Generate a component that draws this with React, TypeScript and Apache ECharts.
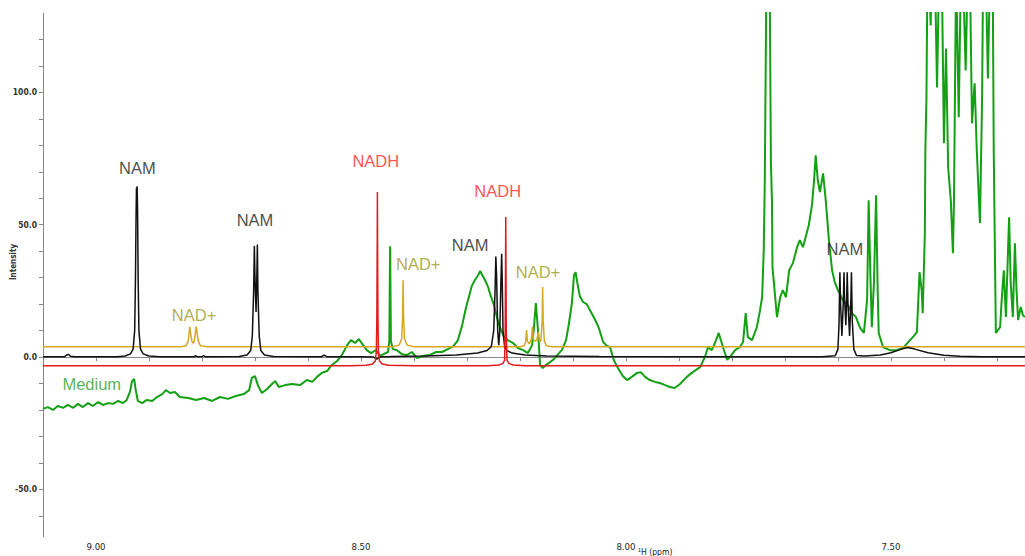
import React, { useEffect, useRef } from "react";
import * as echarts from "echarts";

// Axis ticks / labels (ppm on x, intensity on y)
const xTickValues = [7.3, 7.4, 7.5, 7.6, 7.7, 7.8, 7.9, 8.0, 8.1, 8.2, 8.3, 8.4, 8.5, 8.6, 8.7, 8.8, 8.9, 9.0, 9.1];
const xLabelValues = [7.5, 8.0, 8.5, 9.0];
const yTickValues = [-60, -50, -40, -30, -20, -10, 0, 10, 20, 30, 40, 50, 60, 70, 80, 90, 100, 110, 120];
const yLabelValues = [-50, 0, 50, 100];

// NAM (black)
const namSpectrum: [number, number][] = [
  [9.10, 0.1], [9.06, 0.1], [9.055, 0.8], [9.052, 1.0], [9.048, 0.3], [9.04, 0.1], [8.96, 0.1],
  [8.945, 0.4], [8.935, 1.2], [8.93, 3], [8.927, 10], [8.9255, 30], [8.9243, 55], [8.9236, 64],
  [8.923, 60], [8.9224, 64.5], [8.9215, 55], [8.9205, 30], [8.919, 10], [8.916, 3], [8.911, 1.2],
  [8.90, 0.4], [8.88, 0.1], [8.815, 0.1], [8.812, 0.5], [8.809, 0.1], [8.80, 0.1], [8.797, 0.6],
  [8.794, 0.1], [8.73, 0.2], [8.715, 0.8], [8.708, 2.5], [8.705, 8], [8.7025, 25], [8.7012, 42],
  [8.700, 30], [8.698, 17], [8.6965, 30], [8.6955, 42.5], [8.6945, 25], [8.692, 8], [8.689, 2.5],
  [8.682, 0.8], [8.665, 0.2], [8.575, 0.1], [8.569, 0.7], [8.564, 0.1], [8.50, 0.1], [8.476, 0.0],
  [8.470, -0.8], [8.466, 0], [8.44, 0.2], [8.38, 0.4], [8.32, 0.8], [8.28, 1.5], [8.262, 2.5],
  [8.254, 4], [8.2495, 10], [8.247, 25], [8.2455, 38], [8.244, 30], [8.242, 10], [8.240, 4.5],
  [8.238, 10], [8.236, 28], [8.2345, 39], [8.2335, 30], [8.232, 10], [8.229, 4], [8.225, 2.5],
  [8.215, 1.5], [8.19, 0.8], [8.15, 0.4], [8.05, 0.2], [7.80, 0.1], [7.63, 0.1], [7.605, 0.5],
  [7.600, 3], [7.598, 12], [7.5963, 32], [7.595, 20], [7.5925, 8], [7.590, 20], [7.5885, 32],
  [7.5875, 22], [7.585, 12], [7.5835, 22], [7.5825, 32], [7.581, 20], [7.578, 8], [7.5755, 22],
  [7.5745, 32], [7.573, 14], [7.570, 3], [7.565, 0.6], [7.55, 0.4], [7.52, 0.8], [7.50, 1.6],
  [7.48, 3], [7.468, 3.6], [7.455, 3], [7.43, 1.6], [7.40, 0.7], [7.37, 0.3], [7.33, 0.1], [7.24, 0.1],
];

// NADH (red)
const nadhSpectrum: [number, number][] = [
  [9.10, -3.3], [8.52, -3.3], [8.49, -3.1], [8.478, -2.6], [8.473, -1.5], [8.471, 2], [8.470, 15],
  [8.4693, 45], [8.469, 62.4], [8.4687, 45], [8.468, 15], [8.467, 2], [8.465, -1.5], [8.460, -2.6],
  [8.448, -3.1], [8.40, -3.3], [8.26, -3.3], [8.24, -3.0], [8.232, -2.4], [8.229, -1.2],
  [8.2278, 10], [8.2272, 35], [8.2268, 52.9], [8.2264, 35], [8.2258, 10], [8.2245, -1.2],
  [8.221, -2.4], [8.213, -3.0], [8.19, -3.3], [7.24, -3.3],
];

// NAD+ (gold)
const nadPlusSpectrum: [number, number][] = [
  [9.10, 3.9], [8.84, 3.9], [8.830, 4.3], [8.826, 6], [8.824, 9.5], [8.823, 11.4], [8.8215, 9],
  [8.819, 6], [8.817, 5.2], [8.8145, 6], [8.8125, 9], [8.811, 11.5], [8.8095, 9.5], [8.807, 6],
  [8.803, 4.3], [8.79, 3.9], [8.44, 3.9], [8.428, 4.5], [8.423, 7], [8.4215, 15], [8.4205, 29],
  [8.4195, 15], [8.418, 7], [8.413, 4.5], [8.40, 3.9], [8.20, 3.9], [8.192, 4.3], [8.189, 6],
  [8.1875, 10.2], [8.186, 6], [8.1825, 5], [8.1785, 6.5], [8.1765, 11.4], [8.1745, 6.5],
  [8.1705, 6], [8.168, 6.5], [8.1655, 9.5], [8.163, 6], [8.1605, 6], [8.158, 14], [8.1572, 26.5],
  [8.1562, 14], [8.154, 6], [8.150, 4.3], [8.14, 3.9], [7.24, 3.9],
];

// Medium (green)
const mediumSpectrum: [number, number][] = [
  [9.100, -19.6], [9.091, -18.9], [9.081, -20.0], [9.072, -18.5], [9.062, -19.2], [9.053, -18.1],
  [9.043, -19.2], [9.034, -17.7], [9.025, -18.9], [9.015, -17.4], [9.006, -18.5], [8.996, -17.0],
  [8.987, -18.1], [8.977, -17.4], [8.968, -17.7], [8.958, -16.6], [8.949, -17.4], [8.942, -16.2],
  [8.936, -13.2], [8.932, -9.1], [8.928, -8.3], [8.925, -12.5], [8.921, -16.6], [8.913, -17.4],
  [8.904, -16.2], [8.894, -16.6], [8.885, -15.1], [8.875, -14.0], [8.868, -12.5], [8.860, -13.6],
  [8.851, -13.2], [8.842, -15.1], [8.826, -15.5], [8.811, -16.2], [8.796, -15.5], [8.781, -16.6],
  [8.766, -15.1], [8.751, -15.8], [8.736, -14.7], [8.721, -14.0], [8.711, -12.5], [8.706, -7.9],
  [8.700, -7.2], [8.694, -10.9], [8.687, -13.6], [8.677, -12.1], [8.668, -10.2], [8.662, -9.1],
  [8.655, -11.3], [8.643, -10.6], [8.630, -10.2], [8.615, -10.6], [8.602, -8.7], [8.592, -9.4],
  [8.583, -7.5], [8.574, -6.0], [8.564, -5.3], [8.555, -3.0], [8.545, -1.5], [8.536, 0.8],
  [8.526, 4.5], [8.519, 6.4], [8.511, 5.3], [8.504, 6.8], [8.496, 4.5], [8.489, 2.6], [8.481, 1.5],
  [8.472, 2.6], [8.464, 0.4], [8.457, 1.1], [8.449, 1.9], [8.4465, 6], [8.445, 41.9], [8.4435, 6],
  [8.440, 3.0], [8.432, 2.6], [8.423, 1.1], [8.413, 0.8], [8.404, 1.9], [8.394, -0.4], [8.383, 0.4],
  [8.370, 0.8], [8.358, 1.9], [8.347, 1.9], [8.336, 3.0], [8.325, 4.2], [8.317, 6.4], [8.309, 12.1],
  [8.302, 18.5], [8.296, 23.0], [8.291, 26.8], [8.285, 29.1], [8.279, 30.9], [8.275, 32.5],
  [8.272, 31.3], [8.266, 29.1], [8.260, 26.4], [8.255, 23.0], [8.249, 19.6], [8.243, 14.7],
  [8.238, 11.3], [8.230, 7.5], [8.223, 6.4], [8.213, 5.3], [8.204, 3.4], [8.194, 2.6], [8.185, 1.5],
  [8.177, 4.5], [8.174, 10.2], [8.170, 20.4], [8.166, 10.2], [8.162, -3.0], [8.157, -4.2],
  [8.151, -3.0], [8.143, -1.9], [8.136, -0.8], [8.128, 1.1], [8.121, 2.6], [8.113, 6.4],
  [8.108, 12.1], [8.102, 20.4], [8.098, 30.9], [8.095, 32.1], [8.092, 28.3], [8.087, 23.0],
  [8.081, 20.8], [8.074, 20.0], [8.066, 17.0], [8.058, 14.0], [8.051, 10.9], [8.043, 5.7],
  [8.036, 4.2], [8.030, 3.8], [8.023, -1.1], [8.015, -4.2], [8.006, -7.2], [7.998, -8.7],
  [7.989, -7.5], [7.979, -6.0], [7.972, -5.7], [7.964, -7.5], [7.955, -8.7], [7.945, -9.4],
  [7.936, -9.8], [7.926, -10.6], [7.917, -11.3], [7.908, -11.7], [7.898, -10.2], [7.885, -7.5],
  [7.874, -5.7], [7.860, -3.8], [7.851, 0], [7.845, 3.8], [7.838, 2.6], [7.832, 5.3], [7.825, 9.1],
  [7.817, 3.8], [7.809, -1.1], [7.804, 0], [7.794, 2.6], [7.785, 3.8], [7.779, 5.7], [7.774, 16.6],
  [7.770, 7.5], [7.762, 6.4], [7.753, 11.3], [7.747, 17.7], [7.743, 22.6], [7.740, 40.4],
  [7.738, 66.8], [7.735, 142], [7.732, 157], [7.729, 150], [7.7265, 74], [7.7245, 59], [7.7235, 34],
  [7.715, 15.1], [7.709, 22.6], [7.704, 25.3], [7.698, 22.6], [7.692, 32.8], [7.685, 35.5],
  [7.677, 41.5], [7.672, 44.2], [7.666, 41.5], [7.660, 46.0], [7.655, 49.8], [7.649, 57.4],
  [7.645, 66.8], [7.642, 76.2], [7.638, 66.8], [7.634, 62.3], [7.628, 69.4], [7.623, 59.2],
  [7.617, 44.2], [7.611, 32.8], [7.606, 28.3], [7.600, 25.3], [7.591, 21.5], [7.581, 19.6],
  [7.574, 16.6], [7.566, 15.1], [7.558, 10.9], [7.551, 9.1], [7.545, 21.5], [7.542, 59.2],
  [7.539, 32.8], [7.536, 11.3], [7.532, 28.3], [7.528, 61.1], [7.525, 25.3], [7.523, 9.1],
  [7.515, 3.8], [7.502, 2.6], [7.489, 2.6], [7.477, 3.4], [7.464, 6.4], [7.457, 7.9], [7.451, 9.4],
  [7.446, 32.1], [7.442, 25.3], [7.440, 16.6], [7.436, 46.8], [7.435, 78.1], [7.434, 88.3],
  [7.433, 97.0], [7.431, 146], [7.428, 146], [7.425, 125.3], [7.423, 146], [7.417, 146],
  [7.413, 101.9], [7.409, 146], [7.404, 146], [7.400, 80.8], [7.396, 116.6], [7.392, 71.7],
  [7.387, 59.2], [7.383, 39.2], [7.381, 59.2], [7.377, 146], [7.372, 90.6], [7.368, 146],
  [7.364, 146], [7.359, 108.3], [7.355, 146], [7.351, 146], [7.347, 88.3], [7.343, 100.8],
  [7.342, 103.4], [7.338, 78.1], [7.332, 50.6], [7.328, 97.0], [7.326, 146], [7.321, 146],
  [7.317, 105.3], [7.313, 146], [7.308, 146], [7.306, 78.1], [7.302, 9.1], [7.298, 10.2],
  [7.294, 11.3], [7.291, 21.5], [7.287, 32.8], [7.283, 15.1], [7.279, 40.4], [7.277, 52.8],
  [7.274, 28.3], [7.270, 15.1], [7.266, 43.0], [7.263, 25.3], [7.260, 14.0], [7.255, 18.9],
  [7.251, 15.8], [7.247, 15.1],
];

// Peak annotations
const annotationTexts = ["NAM", "NAM", "NADH", "NADH", "NAM", "NAD+", "NAD+", "NAD+", "NAM", "Medium"];
const annotationPpm = [8.922, 8.700, 8.472, 8.242, 8.294, 8.392, 8.166, 8.815, 7.587, 9.008];
const annotationIntensity = [71.3, 51.7, 74.0, 62.6, 42.3, 35.1, 32.1, 15.8, 40.8, -10.2];

const LABEL_COLORS: Record<string, string> = {
  NAM: "#1a1a1a",
  NADH: "#ff2424",
  "NAD+": "#9a9a20",
  Medium: "#2a9f2a",
};

const AXIS_FONT = "'DejaVu Sans Condensed', 'DejaVu Sans', sans-serif";
const LABEL_FONT = "'Liberation Sans', Arial, sans-serif";

export default function App() {
  const ref = useRef<HTMLDivElement>(null);

  useEffect(() => {
    if (!ref.current) return;
    const chart = echarts.init(ref.current, undefined, { renderer: "svg" });

    const lineSeries = (name: string, data: [number, number][], color: string, width: number, z: number) => ({
      name,
      type: "line",
      data,
      showSymbol: false,
      symbol: "none",
      clip: true,
      z,
      lineStyle: { color, width },
      emphasis: { disabled: true },
    });

    chart.setOption({
      animation: false,
      grid: { left: 43, right: 0, top: 13, bottom: 19, containLabel: false, outerBoundsMode: "none" },
      xAxis: {
        type: "value",
        inverse: true,
        min: 7.247,
        max: 9.1,
        axisLine: { show: true, lineStyle: { color: "#888", width: 1 } },
        axisTick: { show: true, customValues: xTickValues, length: 4, lineStyle: { color: "#888" } },
        axisLabel: {
          customValues: xLabelValues,
          formatter: (v: number) => v.toFixed(2),
          color: "#222",
          fontSize: 9.5,
          fontFamily: AXIS_FONT,
          margin: 4,
        },
        splitLine: { show: false },
      },
      yAxis: {
        type: "value",
        min: -68,
        max: 130,
        axisLine: { show: true, lineStyle: { color: "#888", width: 1 } },
        axisTick: { show: true, customValues: yTickValues, length: 4, lineStyle: { color: "#888" } },
        axisLabel: {
          customValues: yLabelValues,
          formatter: (v: number) => v.toFixed(1),
          color: "#333",
          fontSize: 8.5,
          fontWeight: "bold",
          fontFamily: AXIS_FONT,
          margin: 6,
        },
        splitLine: { show: false },
      },
      series: [
        lineSeries("Medium", mediumSpectrum, "#14a014", 2, 1),
        lineSeries("NAD+", nadPlusSpectrum, "#d6a820", 1.5, 2),
        lineSeries("NAM", namSpectrum, "#111111", 1.5, 3),
        lineSeries("NADH", nadhSpectrum, "#e31a1a", 1.5, 4),
        {
          name: "labels",
          type: "scatter",
          symbolSize: 0,
          z: 10,
          silent: true,
          data: annotationTexts.map((t, i) => ({
            value: [annotationPpm[i], annotationIntensity[i]],
            label: {
              show: true,
              position: "inside",
              formatter: t,
              color: LABEL_COLORS[t],
              fontSize: 16.5,
              fontFamily: LABEL_FONT,
            },
          })),
        },
      ],
      graphic: [
        {
          type: "text",
          x: 13,
          y: 262,
          rotation: Math.PI / 2,
          style: {
            text: "Intensity",
            fill: "#333",
            font: `bold 8px ${AXIS_FONT}`,
            textAlign: "center",
            textVerticalAlign: "middle",
          },
        },
        {
          type: "text",
          x: 638,
          y: 552,
          style: {
            text: "¹H (ppm)",
            fill: "#222",
            font: `8.5px ${AXIS_FONT}`,
            textAlign: "left",
            textVerticalAlign: "middle",
          },
        },
      ],
    });

    return () => chart.dispose();
  }, []);

  return (
    <div
      ref={ref}
      style={{ position: "absolute", left: 0, top: 0, width: 1025, height: 556, background: "#fff" }}
    />
  );
}
